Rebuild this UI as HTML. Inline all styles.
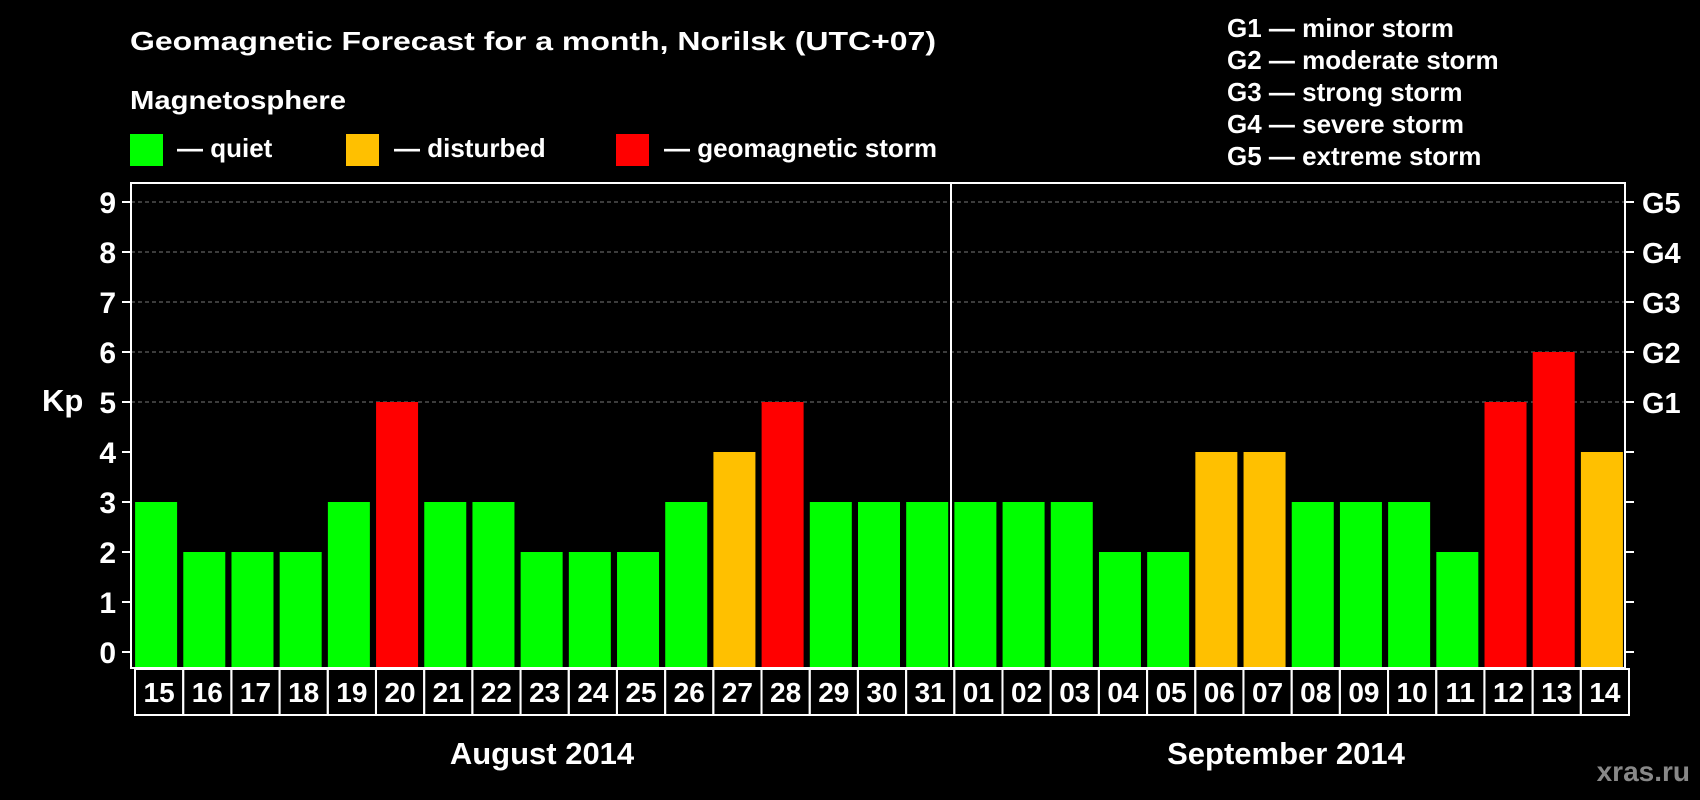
<!DOCTYPE html>
<html><head><meta charset="utf-8"><style>
body{margin:0;background:#000;}
svg{display:block;font-family:"Liberation Sans",sans-serif;font-weight:bold;}
</style></head><body>
<svg id="chart" width="1700" height="800" viewBox="0 0 1700 800">
<text x="130" y="50" fill="#fff" font-size="26" textLength="806" lengthAdjust="spacingAndGlyphs">Geomagnetic Forecast for a month, Norilsk (UTC+07)</text>
<text x="130" y="109" fill="#fff" font-size="26" textLength="216" lengthAdjust="spacingAndGlyphs">Magnetosphere</text>
<rect x="130" y="134" width="33" height="32" fill="#00ff00"/>
<text x="177" y="157" fill="#fff" font-size="26">— quiet</text>
<rect x="346" y="134" width="33" height="32" fill="#ffc000"/>
<text x="394" y="157" fill="#fff" font-size="26">— disturbed</text>
<rect x="616" y="134" width="33" height="32" fill="#ff0000"/>
<text x="664" y="157" fill="#fff" font-size="26">— geomagnetic storm</text>
<g fill="#fff" font-size="26">
<text x="1227" y="37">G1 — minor storm</text>
<text x="1227" y="69">G2 — moderate storm</text>
<text x="1227" y="101">G3 — strong storm</text>
<text x="1227" y="133">G4 — severe storm</text>
<text x="1227" y="165">G5 — extreme storm</text>
</g>
<text x="42" y="411" fill="#fff" font-size="31">Kp</text>
<g id="grid"></g>
<g id="bars"></g>
<g id="labels"></g>
<rect x="131" y="183" width="1494" height="485" fill="none" stroke="#fff" stroke-width="2"/>
<line x1="951" y1="183" x2="951" y2="668" stroke="#fff" stroke-width="2"/>
<text x="542" y="764" fill="#fff" font-size="31" text-anchor="middle">August 2014</text>
<text x="1286" y="764" fill="#fff" font-size="31" text-anchor="middle">September 2014</text>
<text x="1690" y="781" fill="#888" font-size="28" text-anchor="end">xras.ru</text>
</svg>
<script>
const days=["15","16","17","18","19","20","21","22","23","24","25","26","27","28","29","30","31","01","02","03","04","05","06","07","08","09","10","11","12","13","14"];
const kp=[3,2,2,2,3,5,3,3,2,2,2,3,4,5,3,3,3,3,3,3,2,2,4,4,3,3,3,2,5,6,4];
const yTicks=[0,1,2,3,4,5,6,7,8,9];
const gLabels=["G1","G2","G3","G4","G5"];
const gLevels=[5,6,7,8,9];
const NS="http://www.w3.org/2000/svg";
const y0=652,unit=50,left=131,right=1625,bottom=668;
const step=(right-left)/days.length;
function yS(v){return y0-v*unit;}
function xS(i){return left+i*step;}
function mk(t,a,p){const e=document.createElementNS(NS,t);for(const k in a)e.setAttribute(k,a[k]);p.appendChild(e);return e;}
const grid=document.getElementById('grid'),bars=document.getElementById('bars'),labels=document.getElementById('labels');
yTicks.forEach(v=>{
 const y=yS(v);
 if(v>=5){const g=mk('line',{x1:left,y1:y,x2:right,y2:y,stroke:'#777','stroke-width':1,'stroke-dasharray':'4,3'},grid);
 
 }
 const t1=mk('line',{x1:left-9,y1:y,x2:left,y2:y,stroke:'#fff','stroke-width':2},grid);
 
 
 const t2=mk('line',{x1:right,y1:y,x2:right+9,y2:y,stroke:'#fff','stroke-width':2},grid);
 
 
 const tx=mk('text',{x:116,y:y+11,fill:'#fff','font-size':30,'text-anchor':'end'},grid);tx.textContent=v;
 
 
});
gLabels.forEach((g,i)=>{
 const tx=mk('text',{x:1642,y:yS(gLevels[i])+11,fill:'#fff','font-size':29},grid);tx.textContent=g;
 
 
});
days.forEach((d,i)=>{
 const v=kp[i];const c=v>=5?'#ff0000':(v>=4?'#ffc000':'#00ff00');
 const x=xS(i);
 const b=mk('rect',{x:x+(step-42)/2+1,y:yS(v),width:42,height:bottom-yS(v),fill:c},bars);
 
 
 const box=mk('rect',{x:x+4,y:669,width:step,height:46,fill:'none',stroke:'#fff','stroke-width':2},labels);
 
 
 const t=mk('text',{x:x+4+step/2,y:702,fill:'#fff','font-size':28,'text-anchor':'middle'},labels);t.textContent=d;
 
 
});
</script>
</body></html>
